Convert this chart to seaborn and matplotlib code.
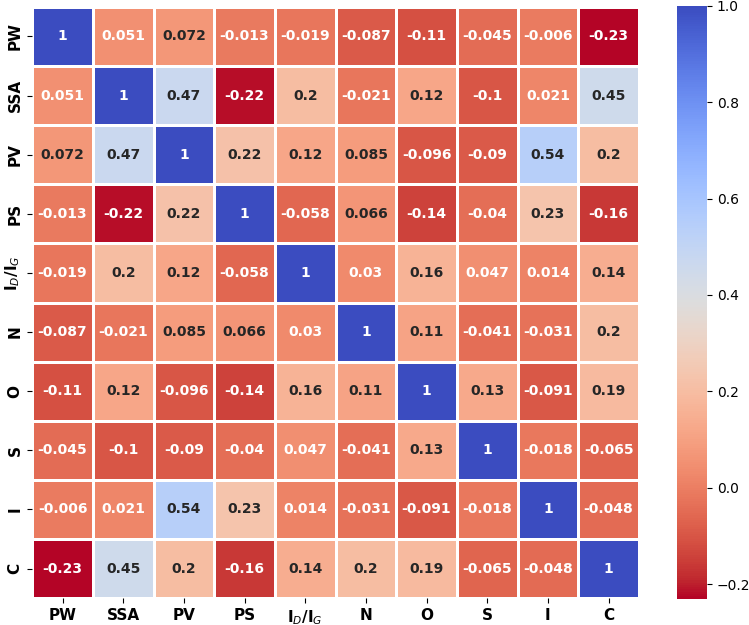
import matplotlib
matplotlib.use('Agg')
import matplotlib.pyplot as plt
import seaborn as sns
import pandas as pd

labels = ['PW', 'SSA', 'PV', 'PS', 'I$_D$/I$_G$', 'N', 'O', 'S', 'I', 'C']

pw = [1, 0.051, 0.072, -0.013, -0.019, -0.087, -0.11, -0.045, -0.006, -0.23]
ssa = [0.051, 1, 0.47, -0.22, 0.2, -0.021, 0.12, -0.1, 0.021, 0.45]
pv = [0.072, 0.47, 1, 0.22, 0.12, 0.085, -0.096, -0.09, 0.54, 0.2]
ps = [-0.013, -0.22, 0.22, 1, -0.058, 0.066, -0.14, -0.04, 0.23, -0.16]
idig = [-0.019, 0.2, 0.12, -0.058, 1, 0.03, 0.16, 0.047, 0.014, 0.14]
n = [-0.087, -0.021, 0.085, 0.066, 0.03, 1, 0.11, -0.041, -0.031, 0.2]
o = [-0.11, 0.12, -0.096, -0.14, 0.16, 0.11, 1, 0.13, -0.091, 0.19]
s = [-0.045, -0.1, -0.09, -0.04, 0.047, -0.041, 0.13, 1, -0.018, -0.065]
i = [-0.006, 0.021, 0.54, 0.23, 0.014, -0.031, -0.091, -0.018, 1, -0.048]
c = [-0.23, 0.45, 0.2, -0.16, 0.14, 0.2, 0.19, -0.065, -0.048, 1]

corr = pd.DataFrame([pw, ssa, pv, ps, idig, n, o, s, i, c], index=labels, columns=labels)

fig = plt.figure(figsize=(7.49, 6.25), dpi=100)
ax = fig.add_axes([0.043, 0.043, 0.81, 0.946])
cax = fig.add_axes([0.904, 0.042, 0.040, 0.949])

sns.heatmap(corr, annot=True, cmap='coolwarm_r', linewidths=1, linecolor='white',
            annot_kws={'fontsize': 10, 'fontweight': 'bold'}, ax=ax, cbar_ax=cax)

ax.set_xticklabels(labels, fontsize=11, fontweight='bold', rotation=0)
ax.set_yticklabels(labels, fontsize=11, fontweight='bold', rotation=90, va='center')
cax.tick_params(labelsize=10)
cax.set_yticks([-0.2, 0.0, 0.2, 0.4, 0.6, 0.8, 1.0])

plt.savefig('out.png', dpi=100)
